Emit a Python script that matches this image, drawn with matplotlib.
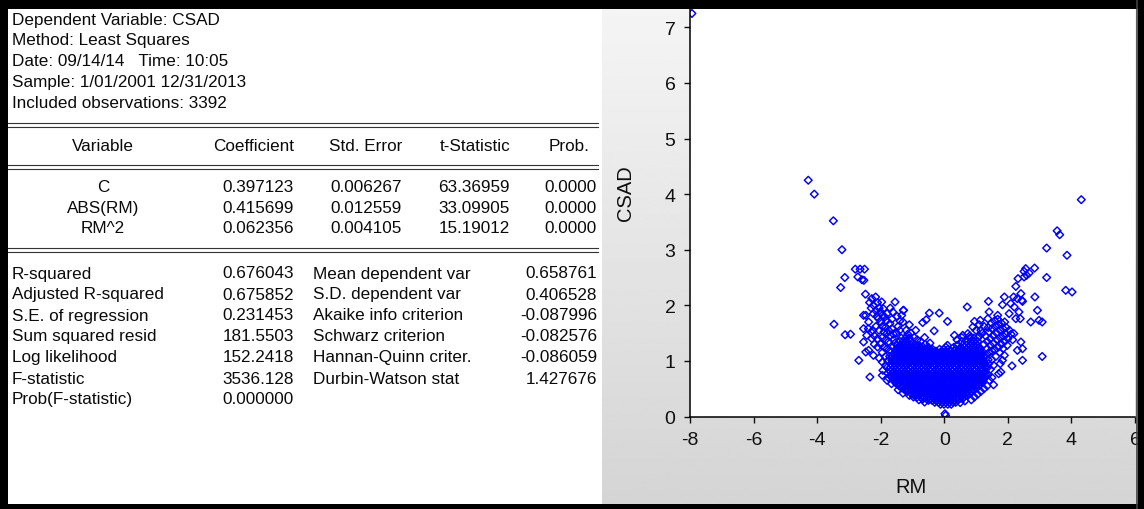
import matplotlib
matplotlib.use("Agg")
import matplotlib.pyplot as plt
import numpy as np
from matplotlib.lines import Line2D
from matplotlib.patches import Rectangle

plt.rcParams['font.family'] = ['Liberation Sans', 'DejaVu Sans']

W, H = 1144, 510

# ---------------- regression output ----------------
header_lines = [
    "Dependent Variable: CSAD",
    "Method: Least Squares",
    "Date: 09/14/14   Time: 10:05",
    "Sample: 1/01/2001 12/31/2013",
    "Included observations: 3392",
]
coef_headers = ["Variable", "Coefficient", "Std. Error", "t-Statistic", "Prob."]
variables = ["C", "ABS(RM)", "RM^2"]
coefficients = ["0.397123", "0.415699", "0.062356"]
std_errors = ["0.006267", "0.012559", "0.004105"]
t_statistics = ["63.36959", "33.09905", "15.19012"]
probabilities = ["0.0000", "0.0000", "0.0000"]

left_stat_names = ["R-squared", "Adjusted R-squared", "S.E. of regression",
                   "Sum squared resid", "Log likelihood", "F-statistic",
                   "Prob(F-statistic)"]
left_stat_values = ["0.676043", "0.675852", "0.231453", "181.5503",
                    "152.2418", "3536.128", "0.000000"]
right_stat_names = ["Mean dependent var", "S.D. dependent var",
                    "Akaike info criterion", "Schwarz criterion",
                    "Hannan-Quinn criter.", "Durbin-Watson stat"]
right_stat_values = ["0.658761", "0.406528", "-0.087996", "-0.082576",
                     "-0.086059", "1.427676"]

# ---------------- scatter of CSAD against RM ----------------
# dense centre of the cloud: one CSAD level per row with the RM values around it
core_csad = [0.22, 0.255, 0.29, 0.32, 0.35, 0.385, 0.42, 0.45, 0.48, 0.515,
             0.55, 0.585, 0.62, 0.65, 0.68, 0.715, 0.75, 0.78, 0.81, 0.845,
             0.88, 0.915, 0.95, 0.98, 1.01, 1.045, 1.08, 1.11, 1.14, 1.175,
             1.21, 1.245, 1.28, 1.35, 1.41]
core_rm = [
    [-0.12, -0.01, 0.11, 0.22],
    [-0.30, -0.18, -0.07, 0.05, 0.16, 0.28, 0.36],
    [-0.50, -0.38, -0.27, -0.15, -0.04, 0.08, 0.19, 0.31, 0.42],
    [-0.68, -0.56, -0.44, -0.33, -0.21, -0.10, 0.02, 0.13, 0.25, 0.36, 0.48,
     0.57],
    [-0.85, -0.74, -0.62, -0.51, -0.39, -0.28, -0.16, -0.05, 0.07, 0.18, 0.30,
     0.41, 0.53, 0.62],
    [-0.96, -0.80, -0.68, -0.57, -0.45, -0.34, -0.22, -0.11, 0.01, 0.12, 0.24,
     0.35, 0.47, 0.58, 0.70],
    [-1.05, -0.94, -0.82, -0.71, -0.59, -0.48, -0.36, -0.25, -0.13, -0.02, 0.10,
     0.21, 0.33, 0.44, 0.56, 0.67, 0.79],
    [-1.16, -0.99, -0.88, -0.76, -0.65, -0.53, -0.42, -0.30, -0.19, -0.07, 0.04,
     0.16, 0.27, 0.39, 0.50, 0.62, 0.73, 0.85],
    [-1.25, -1.14, -1.02, -0.91, -0.79, -0.68, -0.56, -0.45, -0.33, -0.22, -0.10,
     0.01, 0.13, 0.24, 0.36, 0.47, 0.59, 0.70, 0.82, 0.94],
    [-1.34, -1.19, -1.08, -0.96, -0.85, -0.73, -0.62, -0.50, -0.39, -0.27, -0.16,
     -0.04, 0.07, 0.19, 0.30, 0.42, 0.53, 0.65, 0.76, 0.88, 1.00],
    [-1.42, -1.31, -1.19, -1.08, -0.96, -0.85, -0.73, -0.62, -0.50, -0.39, -0.27,
     -0.16, -0.04, 0.07, 0.19, 0.30, 0.42, 0.53, 0.65, 0.76, 0.88, 0.99, 1.08],
    [-1.49, -1.36, -1.25, -1.13, -1.02, -0.90, -0.79, -0.67, -0.56, -0.44, -0.33,
     -0.21, -0.10, 0.02, 0.13, 0.25, 0.36, 0.48, 0.59, 0.71, 0.82, 0.94, 1.05,
     1.13],
    [-1.55, -1.44, -1.32, -1.21, -1.09, -0.98, -0.86, -0.75, -0.63, -0.52, -0.40,
     -0.29, -0.17, -0.06, 0.06, 0.17, 0.29, 0.40, 0.52, 0.63, 0.75, 0.86, 0.98,
     1.09, 1.18],
    [-1.60, -1.49, -1.38, -1.26, -1.15, -1.03, -0.92, -0.80, -0.69, -0.57, -0.46,
     -0.34, -0.23, -0.11, 0.00, 0.12, 0.23, 0.35, 0.46, 0.58, 0.69, 0.81, 0.92,
     1.04, 1.15, 1.22],
    [-1.62, -1.51, -1.39, -1.28, -1.16, -1.05, -0.93, -0.82, -0.70, -0.59, -0.47,
     -0.36, -0.24, -0.13, -0.01, 0.10, 0.22, 0.33, 0.45, 0.56, 0.68, 0.79, 0.91,
     1.02, 1.14, 1.25],
    [-1.66, -1.56, -1.45, -1.33, -1.22, -1.10, -0.99, -0.87, -0.76, -0.64, -0.53,
     -0.41, -0.30, -0.18, -0.07, 0.05, 0.16, 0.28, 0.39, 0.51, 0.62, 0.74, 0.85,
     0.97, 1.08, 1.20, 1.28],
    [-1.68, -1.57, -1.45, -1.34, -1.22, -1.11, -0.99, -0.88, -0.76, -0.65, -0.53,
     -0.42, -0.30, -0.19, -0.07, 0.04, 0.16, 0.27, 0.39, 0.50, 0.62, 0.73, 0.85,
     0.96, 1.08, 1.19, 1.30],
    [-1.62, -1.51, -1.40, -1.28, -1.17, -1.05, -0.94, -0.82, -0.71, -0.59, -0.48,
     -0.36, -0.25, -0.13, -0.02, 0.10, 0.21, 0.33, 0.44, 0.56, 0.67, 0.79, 0.90,
     1.02, 1.13, 1.25],
    [-1.70, -1.59, -1.47, -1.36, -1.24, -1.13, -1.01, -0.90, -0.78, -0.67, -0.55,
     -0.44, -0.32, -0.21, -0.09, 0.02, 0.14, 0.25, 0.37, 0.48, 0.60, 0.71, 0.83,
     0.94, 1.06, 1.17, 1.29],
    [-1.64, -1.53, -1.41, -1.30, -1.18, -1.07, -0.95, -0.84, -0.72, -0.61, -0.49,
     -0.38, -0.26, -0.15, -0.03, 0.08, 0.20, 0.31, 0.43, 0.54, 0.66, 0.77, 0.89,
     1.00, 1.12, 1.23],
    [-1.70, -1.58, -1.47, -1.35, -1.24, -1.12, -1.01, -0.89, -0.78, -0.66, -0.55,
     -0.43, -0.32, -0.20, -0.09, 0.03, 0.14, 0.26, 0.37, 0.49, 0.60, 0.72, 0.83,
     0.95, 1.06, 1.18, 1.30],
    [-1.64, -1.52, -1.41, -1.29, -1.18, -1.06, -0.95, -0.83, -0.72, -0.60, -0.49,
     -0.37, -0.26, -0.14, -0.03, 0.09, 0.20, 0.32, 0.43, 0.55, 0.66, 0.78, 0.89,
     1.01, 1.12, 1.24],
    [-1.68, -1.57, -1.45, -1.34, -1.22, -1.11, -0.99, -0.88, -0.76, -0.65, -0.53,
     -0.42, -0.30, -0.19, -0.07, 0.04, 0.16, 0.27, 0.39, 0.50, 0.62, 0.73, 0.85,
     0.96, 1.08, 1.19, 1.28],
    [-1.62, -1.51, -1.39, -1.28, -1.16, -1.05, -0.93, -0.82, -0.70, -0.59, -0.47,
     -0.36, -0.24, -0.13, -0.01, 0.10, 0.22, 0.33, 0.45, 0.56, 0.68, 0.79, 0.91,
     1.02, 1.14, 1.24],
    [-1.65, -1.54, -1.42, -1.31, -1.19, -1.08, -0.96, -0.85, -0.73, -0.62, -0.50,
     -0.39, -0.27, -0.16, -0.04, 0.07, 0.19, 0.30, 0.42, 0.53, 0.65, 0.76, 0.88,
     0.99, 1.11, 1.22],
    [-1.60, -1.48, -1.37, -1.25, -1.14, -1.02, -0.91, -0.79, -0.68, -0.56, -0.45,
     -0.33, -0.22, -0.10, 0.01, 0.13, 0.24, 0.36, 0.47, 0.59, 0.70, 0.82, 0.93,
     1.05, 1.16],
    [-1.62, -1.50, -1.39, -1.27, -1.16, -1.04, -0.93, -0.81, -0.70, -0.58, -0.47,
     -0.35, -0.24, -0.12, -0.01, 0.11, 0.22, 0.34, 0.45, 0.57, 0.68, 0.80, 0.91,
     1.03, 1.14, 1.22],
    [-1.56, -1.45, -1.33, -1.22, -1.10, -0.99, -0.87, -0.76, -0.64, -0.53, -0.41,
     -0.30, -0.18, -0.07, 0.05, 0.16, 0.28, 0.39, 0.51, 0.62, 0.74, 0.85, 0.97,
     1.08, 1.18],
    [-1.58, -1.47, -1.35, -1.24, -1.12, -1.01, -0.89, -0.78, -0.66, -0.55, -0.43,
     -0.32, -0.20, -0.09, 0.03, 0.14, 0.26, 0.37, 0.49, 0.60, 0.72, 0.83, 0.95,
     1.06, 1.18],
    [-1.53, -1.41, -1.30, -1.18, -1.07, -0.95, -0.84, -0.72, -0.61, -0.49, -0.38,
     -0.26, -0.08, 0.05, 0.20, 0.32, 0.43, 0.55, 0.66, 0.78, 0.89, 1.01, 1.10],
    [-1.52, -1.41, -1.29, -1.18, -1.06, -0.95, -0.83, -0.72, -0.60, -0.49, -0.37,
     -0.15, -0.02, 0.12, 0.35, 0.47, 0.58, 0.70, 0.81, 0.93, 1.04, 1.12],
    [-1.46, -1.35, -1.23, -1.12, -1.00, -0.89, -0.77, -0.66, -0.50, 0.05, 0.30,
     0.52, 0.64, 0.75, 0.87, 0.98, 1.08],
    [-1.48, -1.36, -1.25, -1.13, -1.02, -0.90, -0.79, 0.10, 0.40, 0.58, 0.69,
     0.81, 0.92, 1.04],
    [-1.40, -1.29, -1.17, -1.06, 0.55, 0.72, 0.84, 0.95, 1.05],
    [-1.35, -1.22, -1.10, 0.80, 0.93, 1.05],
]

# (RM, CSAD) pairs on the falling left branch of the cloud
left_branch = [
    (-2.28, 2.12), (-2.16, 2.15), (-2.23, 2.00), (-1.97, 2.06), (-1.92, 1.94),
    (-1.29, 1.91), (-1.34, 1.82), (-2.54, 1.82), (-2.38, 1.70), (-2.23, 1.85),
    (-2.07, 1.76), (-1.87, 1.79), (-1.71, 1.67), (-2.54, 1.58), (-2.44, 1.46),
    (-2.54, 1.34), (-2.38, 1.19), (-2.23, 1.10), (-2.10, 2.05), (-2.05, 1.95),
    (-2.00, 1.88), (-1.95, 1.82), (-2.15, 1.90), (-2.12, 1.80), (-1.80, 1.85),
    (-1.82, 1.72), (-2.00, 1.70), (-1.95, 1.62), (-1.85, 1.60), (-1.75, 1.55),
    (-1.65, 1.58), (-1.60, 1.48), (-1.70, 1.45), (-1.80, 1.50), (-1.90, 1.52),
    (-2.05, 1.55), (-2.15, 1.62), (-2.25, 1.55), (-2.20, 1.45), (-2.10, 1.40),
    (-1.95, 1.42), (-1.85, 1.38), (-1.75, 1.35), (-1.60, 1.38), (-2.00, 1.30),
    (-1.90, 1.25), (-1.80, 1.22), (-2.10, 1.25), (-2.20, 1.30), (-1.95, 1.15),
    (-1.85, 1.08), (-2.05, 1.05), (-1.95, 0.98), (-1.85, 0.92), (-1.78, 1.00),
    (-1.80, 0.65), (-1.50, 1.50), (-1.45, 1.62), (-1.40, 1.55), (-1.30, 1.70),
    (-1.20, 1.55), (-1.15, 1.48), (-1.05, 1.50), (-0.95, 1.42), (-0.85, 1.38),
    (-0.75, 1.35), (-0.60, 1.30), (-0.45, 1.32), (-1.65, 1.75), (-2.35, 2.05),
    (-2.30, 1.95), (-1.70, 1.95), (-1.62, 1.88), (-1.48, 1.80), (-1.40, 1.72),
    (-0.90, 1.55), (-1.10, 1.65), (-0.62, 1.42),
    (-1.78, 0.78), (-1.80, 0.88), (-1.76, 0.70), (-1.72, 1.08), (-1.70, 1.18),
    (-1.62, 1.25), (-1.55, 1.32),
]

# (RM, CSAD) pairs on the rising right branch and the lower rim
right_branch = [
    (1.25, 1.30), (1.35, 1.35), (1.45, 1.40), (1.55, 1.45), (1.65, 1.50),
    (1.75, 1.55), (1.85, 1.58), (1.95, 1.60), (2.05, 1.55), (1.30, 1.45),
    (1.40, 1.52), (1.50, 1.58), (1.60, 1.62), (1.70, 1.65), (1.80, 1.68),
    (1.90, 1.70), (1.45, 1.28), (1.55, 1.32), (1.65, 1.38), (1.75, 1.42),
    (1.85, 1.45), (1.95, 1.48), (2.00, 1.40), (1.90, 1.35), (1.80, 1.30),
    (1.70, 1.25), (1.60, 1.20), (1.50, 1.18), (1.40, 1.15), (1.35, 1.22),
    (1.38, 1.60), (1.48, 1.68), (1.58, 1.72), (1.68, 1.75), (1.20, 1.50),
    (1.25, 1.62), (1.15, 1.55), (1.10, 1.45), (2.10, 1.48), (2.15, 1.38),
    (1.98, 1.28), (1.85, 1.22), (1.75, 1.15), (1.62, 1.08), (1.50, 1.02),
    (1.40, 0.95), (1.45, 0.85), (1.55, 0.92), (1.38, 0.75), (1.50, 0.70),
    (1.42, 0.65), (1.35, 0.55), (1.25, 0.50), (1.15, 0.45), (1.05, 0.40),
    (0.95, 0.35), (0.85, 0.30), (0.65, 0.28), (0.50, 0.25), (-0.62, 0.26),
    (-0.80, 0.30), (-1.10, 0.38), (-1.30, 0.42), (-1.45, 0.48),
    (0.40, 1.38), (0.55, 1.42), (0.80, 1.45), (1.00, 1.55), (1.10, 1.65),
    (1.36, 0.88), (1.38, 1.02), (1.32, 1.10),
]

# isolated observations
isolated = [
    (-7.94, 7.25),
    (-4.28, 4.25), (-4.09, 4.00), (-3.49, 3.52), (-3.22, 3.00),
    (-2.80, 2.65), (-2.65, 2.65), (-2.51, 2.65), (-3.13, 2.50), (-3.26, 2.32),
    (-2.72, 2.51), (-2.59, 2.46), (-2.53, 2.45), (-2.48, 2.20),
    (-3.47, 1.66), (-3.12, 1.47), (-2.95, 1.48), (-2.69, 1.01), (-2.34, 0.71),
    (-2.47, 1.82), (-2.39, 1.58), (-2.28, 1.40), (-2.30, 1.52), (-2.47, 1.16),
    (-1.55, 2.06), (-1.28, 1.91), (-0.47, 1.86), (-0.16, 1.86), (-0.57, 1.74),
    (-0.68, 1.69), (0.10, 1.71), (-0.32, 1.54), (0.32, 1.46),
    (0.72, 1.97), (0.95, 1.71), (1.13, 1.73), (1.39, 2.07), (1.41, 1.88),
    (1.89, 2.15), (1.83, 2.01), (2.41, 2.21), (2.46, 2.07), (2.85, 2.15),
    (2.93, 1.91), (2.72, 1.70), (2.98, 1.73), (3.08, 1.70), (2.09, 2.03),
    (2.20, 1.97), (2.30, 2.12), (2.35, 1.88), (2.25, 1.76), (2.39, 1.76),
    (1.37, 1.76), (1.68, 1.82), (2.04, 1.85), (0.58, 1.46), (0.74, 1.49),
    (0.90, 1.61), (2.41, 1.34), (2.46, 1.22), (2.30, 1.19), (1.89, 1.10),
    (1.83, 1.01), (2.46, 1.01), (2.13, 0.91), (3.08, 1.08), (1.55, 0.57),
    (1.78, 0.80), (1.71, 0.77), (1.76, 0.95), (2.19, 1.49),
    (4.31, 3.90), (3.55, 3.34), (3.63, 3.27), (3.22, 3.03), (3.86, 2.90),
    (3.22, 2.50), (3.82, 2.27), (4.02, 2.24),
    (2.84, 2.67), (2.56, 2.66), (2.51, 2.61), (2.67, 2.58), (2.59, 2.54),
    (2.32, 2.48), (2.51, 2.51), (2.25, 2.34), (2.18, 2.15), (2.44, 2.09),
    (0.02, 0.05), (0.04, 0.02),
    (-0.97, 0.35), (-0.68, 0.31), (-1.66, 0.59), (-1.44, 0.59), (-1.95, 0.74),
    (-1.93, 0.83),
]

x_ticks = [-8, -6, -4, -2, 0, 2, 4, 6]
y_ticks = [0, 1, 2, 3, 4, 5, 6, 7]


def fx(px):
    return px / W


def fy(py):
    return 1 - py / H


fig = plt.figure(figsize=(W / 100, H / 100), dpi=100, facecolor="white")

# shaded graph frame behind the scatter
bg = fig.add_axes([fx(602), 0, fx(1138) - fx(602), 1])
bg.set_zorder(-1)
shade = np.linspace(245, 212, 256).reshape(-1, 1) / 255.0
bg.imshow(shade, aspect="auto", cmap="gray", vmin=0, vmax=1,
          extent=[0, 1, 0, 1], origin="upper")
bg.set_axis_off()

# scatter
ax = fig.add_axes([fx(690), fy(417.5), fx(1135) - fx(690), fy(10) - fy(417.5)])
rm = [x for row in core_rm for x in row]
csad = [y for y, row in zip(core_csad, core_rm) for _ in row]
for group in (left_branch, right_branch, isolated):
    rm += [p[0] for p in group]
    csad += [p[1] for p in group]
ax.scatter(rm, csad, marker="D", s=15.5, facecolors="none",
           edgecolors="#0000ff", linewidths=1.05)
ax.set_xlim(-8, 6)
ax.set_ylim(0, 7.33)
ax.set_xticks(x_ticks)
ax.set_yticks(y_ticks)
ax.set_xticklabels([str(t) for t in x_ticks])
ax.set_yticklabels([str(t) for t in y_ticks])
for side in ("top", "right"):
    ax.spines[side].set_visible(False)
for side in ("left", "bottom"):
    ax.spines[side].set_linewidth(1.1)
ax.tick_params(direction="out", length=4.5, width=1.0, labelsize=14,
               pad=6, colors="#111111")
ax.set_facecolor("white")
fig.text(fx(626), fy(193), "CSAD", rotation=90, ha="center", va="center",
         fontsize=14.5, color="#111111")
fig.text(fx(911), fy(488), "RM", ha="center", va="center",
         fontsize=14.5, color="#111111")

# regression table text
fs = 12.3
tc = "#0a0a0a"
for i, line in enumerate(header_lines):
    fig.text(fx(12), fy(20 + 21 * i), line, fontsize=fs, color=tc, va="center")


def double_rule(py):
    for off in (0, 4):
        fig.add_artist(Line2D([fx(8), fx(598)], [fy(py + off)] * 2,
                              color="#333333", lw=0.8))


double_rule(124)
double_rule(166)
double_rule(249)

col_right = [294, 402, 510]
fig.text(fx(103), fy(147), coef_headers[0], fontsize=fs, color=tc,
         ha="center", va="center")
for j, name in enumerate(coef_headers[1:4]):
    fig.text(fx(col_right[j]), fy(147), name, fontsize=fs, color=tc,
             ha="right", va="center")
fig.text(fx(590), fy(147), coef_headers[4], fontsize=fs, color=tc,
         ha="right", va="center")

for i in range(len(variables)):
    py = 188 + 20.5 * i
    fig.text(fx(103), fy(py), variables[i], fontsize=fs, color=tc,
             ha="center", va="center")
    for j, col in enumerate((coefficients, std_errors, t_statistics)):
        fig.text(fx(col_right[j]), fy(py), col[i], fontsize=fs, color=tc,
                 ha="right", va="center")
    fig.text(fx(597), fy(py), probabilities[i], fontsize=fs, color=tc,
             ha="right", va="center")

for i in range(len(left_stat_names)):
    py = 274 + 21 * i
    fig.text(fx(12), fy(py), left_stat_names[i], fontsize=fs, color=tc,
             va="center")
    fig.text(fx(294), fy(py), left_stat_values[i], fontsize=fs, color=tc,
             ha="right", va="center")
for i in range(len(right_stat_names)):
    py = 274 + 21 * i
    fig.text(fx(313), fy(py), right_stat_names[i], fontsize=fs, color=tc,
             va="center")
    fig.text(fx(597), fy(py), right_stat_values[i], fontsize=fs, color=tc,
             ha="right", va="center")

# window frame
fig.add_artist(Line2D([fx(1136.5)] * 2, [0, 1], color="#404040", lw=1.2))
for x0, y0, w, h in ((0, 0, 1144, 10), (0, 0, 8, 510), (1138, 0, 6, 510),
                     (0, 505, 1144, 5)):
    fig.add_artist(Rectangle((fx(x0), fy(y0 + h)), w / W, h / H,
                             transform=fig.transFigure, facecolor="black",
                             edgecolor="none"))

fig.savefig("out.png", dpi=100, facecolor="white")
